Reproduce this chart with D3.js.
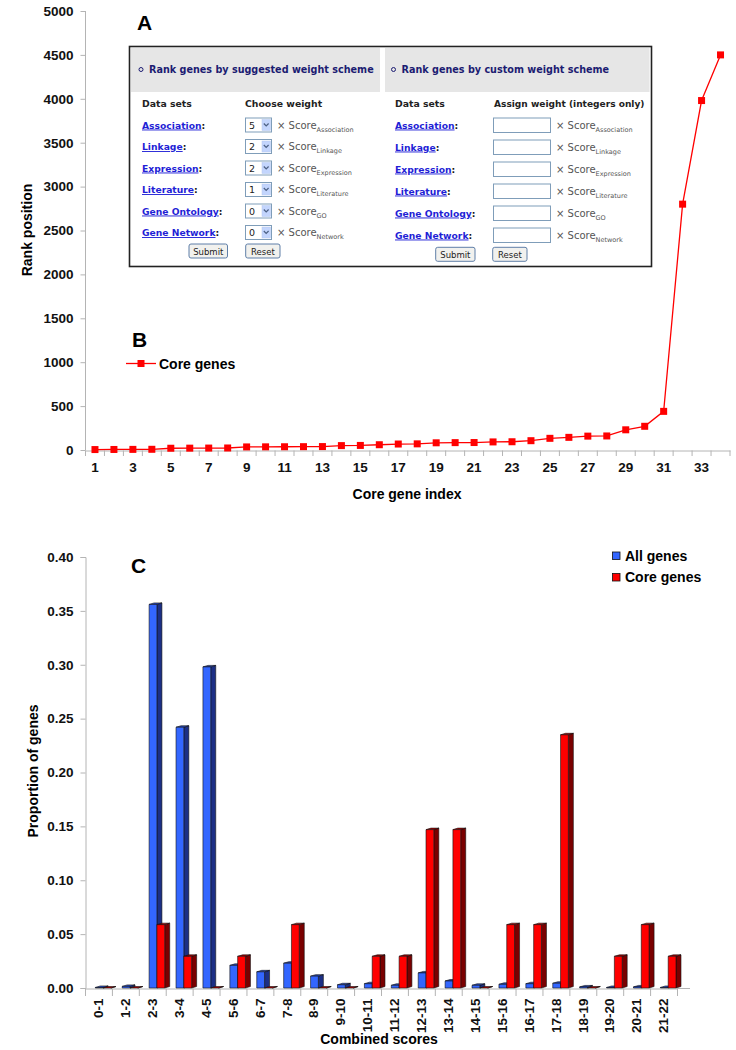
<!DOCTYPE html>
<html>
<head>
<meta charset="utf-8">
<script src="https://cdn.jsdelivr.net/npm/d3@7"></script>
<style>
  html, body { margin: 0; padding: 0; background: #fff; }
  svg { display: block; }
</style>
</head>
<body>
<svg id="chart" width="736" height="1050"></svg>
<script>
// ---------- DATA ----------
// Panel A/B: rank position of each core gene
const coreIndex = d3.range(1, 35);
const rankPosition = [5, 6, 7, 8, 20, 21, 22, 23, 35, 36, 37, 38, 39, 50, 52, 60, 68, 70, 82, 84, 85, 92, 94, 106, 133, 144, 158, 160, 230, 270, 440, 2800, 3980, 4500];
const rankTicks = [0, 500, 1000, 1500, 2000, 2500, 3000, 3500, 4000, 4500, 5000];

// Panel C: distribution of combined scores
const scoreBins = ["0-1","1-2","2-3","3-4","4-5","5-6","6-7","7-8","8-9","9-10","10-11","11-12","12-13","13-14","14-15","15-16","16-17","17-18","18-19","19-20","20-21","21-22"];
const allGenes  = [0.0005, 0.0015, 0.356, 0.242, 0.298, 0.021, 0.015, 0.023, 0.011, 0.003, 0.004, 0.0025, 0.014, 0.0065, 0.0025, 0.0034, 0.004, 0.0044, 0.001, 0.0005, 0.001, 0.0005];
const coreGenes = [0, 0, 0.0588, 0.0294, 0, 0.0294, 0, 0.0588, 0, 0, 0.0294, 0.0294, 0.147, 0.147, 0, 0.0588, 0.0588, 0.235, 0, 0.0294, 0.0588, 0.0294];
const propTicks = [0, 0.05, 0.10, 0.15, 0.20, 0.25, 0.30, 0.35, 0.40];
const seriesNames = ["All genes", "Core genes"];

// Form panel contents
const dataSets = ["Association", "Linkage", "Expression", "Literature", "Gene Ontology", "Gene Network"];
const scoreSubs = ["Association", "Linkage", "Expression", "Literature", "GO", "Network"];
const suggestedWeights = [5, 2, 2, 1, 0, 0];

// ---------- STYLE ----------
const AX = "#b4b4b4";
const FONT = "Liberation Sans, Arial, sans-serif";
const VFONT = "DejaVu Sans, Verdana, sans-serif";
const svg = d3.select("#chart");

// ================= TOP CHART =================
const xT = d3.scaleBand().domain(coreIndex).range([85.5, 730]);
const yT = d3.scaleLinear().domain([0, 5000]).range([450, 11]);

const gT = svg.append("g");
const yAxT = gT.append("g").attr("transform", "translate(85.5,0)")
  .call(d3.axisLeft(yT).tickValues(rankTicks).tickSize(5).tickPadding(7).tickFormat(d3.format("d")));
const xAxT = gT.append("g").attr("transform", "translate(0,450.5)")
  .call(d3.axisBottom(xT).tickSize(0).tickPadding(12).tickFormat(d => d % 2 === 1 ? d : ""));
gT.append("g").selectAll("line").data(d3.range(0, 35)).join("line")
  .attr("x1", i => 85.5 + i * xT.bandwidth()).attr("x2", i => 85.5 + i * xT.bandwidth())
  .attr("y1", 450.5).attr("y2", 456).attr("stroke", AX);

[yAxT, xAxT].forEach(a => {
  a.selectAll(".domain").attr("stroke", AX);
  a.selectAll(".tick line").attr("stroke", AX);
  a.selectAll("text").attr("font-family", FONT).attr("font-weight", "bold").attr("font-size", 13.5).attr("fill", "#111");
});
yAxT.select(".domain").attr("d", "M-0,11V450.5");

gT.append("text").attr("transform", "translate(32,230) rotate(-90)").attr("text-anchor", "middle")
  .attr("font-family", FONT).attr("font-weight", "bold").attr("font-size", 14).text("Rank position");
gT.append("text").attr("x", 407).attr("y", 499).attr("text-anchor", "middle")
  .attr("font-family", FONT).attr("font-weight", "bold").attr("font-size", 14).text("Core gene index");

const cx = d => xT(d) + xT.bandwidth() / 2;
gT.append("path").datum(rankPosition)
  .attr("fill", "none").attr("stroke", "#ff0000").attr("stroke-width", 1.3)
  .attr("d", d3.line().x((d, i) => cx(coreIndex[i])).y(d => yT(d)));
gT.append("g").selectAll("rect").data(rankPosition).join("rect")
  .attr("x", (d, i) => cx(coreIndex[i]) - 3.5).attr("y", d => yT(d) - 3.5)
  .attr("width", 7).attr("height", 7).attr("fill", "#ff0000");

gT.append("text").attr("x", 137).attr("y", 30).attr("font-family", FONT).attr("font-weight", "bold").attr("font-size", 21).text("A");
gT.append("text").attr("x", 132).attr("y", 347).attr("font-family", FONT).attr("font-weight", "bold").attr("font-size", 21).text("B");
gT.append("line").attr("x1", 126).attr("x2", 156).attr("y1", 363.5).attr("y2", 363.5).attr("stroke", "#ff0000").attr("stroke-width", 1.3);
gT.append("rect").attr("x", 137.5).attr("y", 360).attr("width", 7).attr("height", 7).attr("fill", "#ff0000");
gT.append("text").attr("x", 159).attr("y", 368.5).attr("font-family", FONT).attr("font-weight", "bold").attr("font-size", 14).text("Core genes");

// ================= FORM PANEL (A) =================
const gF = svg.append("g");
gF.append("rect").attr("x", 129.5).attr("y", 46.5).attr("width", 522).attr("height", 220)
  .attr("fill", "#fff").attr("stroke", "#222").attr("stroke-width", 1.6);
gF.append("rect").attr("x", 131).attr("y", 48).attr("width", 249).attr("height", 44).attr("fill", "#e6e6e6");
gF.append("rect").attr("x", 385).attr("y", 48).attr("width", 264.5).attr("height", 44).attr("fill", "#e6e6e6");
const NAVY = "#1c1c72";
[[141, 149, "Rank genes by suggested weight scheme"], [393.5, 401.5, "Rank genes by custom weight scheme"]].forEach(([bx, tx, t]) => {
  gF.append("circle").attr("cx", bx).attr("cy", 69.5).attr("r", 2).attr("fill", "none").attr("stroke", NAVY).attr("stroke-width", 1);
  gF.append("text").attr("x", tx).attr("y", 73).attr("font-family", VFONT).attr("font-weight", "bold")
    .attr("font-size", 9.65).attr("fill", NAVY).text(t);
});

function headerRow(x1, x2, t2, fs2) {
  gF.append("text").attr("x", x1).attr("y", 107).attr("font-family", VFONT).attr("font-weight", "bold")
    .attr("font-size", 9.3).attr("fill", "#222").text("Data sets");
  gF.append("text").attr("x", x2).attr("y", 107).attr("font-family", VFONT).attr("font-weight", "bold")
    .attr("font-size", fs2).attr("fill", "#222").text(t2);
}
headerRow(142, 245, "Choose weight", 9.3);
headerRow(395, 494, "Assign weight (integers only)", 9.05);

function rowLabel(x, y, name) {
  const t = gF.append("text").attr("x", x).attr("y", y + 3.5).attr("font-family", VFONT).attr("font-weight", "bold").attr("font-size", 9.2);
  t.append("tspan").attr("fill", "#1f1fd6").attr("text-decoration", "underline").text(name);
  t.append("tspan").attr("fill", "#111").text(":");
}
function scoreText(x, y, sub) {
  const t = gF.append("text").attr("x", x).attr("y", y + 3.5).attr("font-family", VFONT).attr("font-size", 10).attr("fill", "#555");
  t.append("tspan").text("× Score");
  t.append("tspan").attr("font-size", 6.5).attr("dy", 3).text(sub);
}
const leftRowY = d3.scaleLinear().domain([0, 5]).range([125, 232.5]);
const rightRowY = d3.scaleLinear().domain([0, 5]).range([125, 235]);

dataSets.forEach((name, i) => {
  const y = leftRowY(i);
  rowLabel(142, y, name);
  gF.append("rect").attr("x", 245.5).attr("y", y - 7).attr("width", 26).attr("height", 14)
    .attr("fill", "#fff").attr("stroke", "#7f9db9");
  gF.append("rect").attr("x", 262).attr("y", y - 5.5).attr("width", 8.5).attr("height", 11)
    .attr("fill", "#c3d5fd").attr("stroke", "#b4c8f0").attr("stroke-width", 0.5);
  gF.append("path").attr("d", `M${263.8},${y - 1.5}L${266.2},${y + 1}L${268.6},${y - 1.5}`)
    .attr("fill", "none").attr("stroke", "#4d6185").attr("stroke-width", 1.2);
  gF.append("text").attr("x", 249).attr("y", y + 3.5).attr("font-family", VFONT).attr("font-size", 9.5).attr("fill", "#222").text(suggestedWeights[i]);
  scoreText(277, y, scoreSubs[i]);

  const yr = rightRowY(i);
  rowLabel(395, yr, name);
  gF.append("rect").attr("x", 493.5).attr("y", yr - 7).attr("width", 57).attr("height", 14.5)
    .attr("fill", "#fff").attr("stroke", "#7f9db9");
  scoreText(556, yr, scoreSubs[i]);
});

function button(x, y, w, label) {
  gF.append("rect").attr("x", x).attr("y", y).attr("width", w).attr("height", 14).attr("rx", 2)
    .attr("fill", "#f1f1ee").attr("stroke", "#5f7fa8").attr("stroke-width", 1);
  gF.append("text").attr("x", x + w / 2).attr("y", y + 10.5).attr("text-anchor", "middle")
    .attr("font-family", VFONT).attr("font-size", 8.5).attr("fill", "#222").text(label);
}
button(189, 244, 38.5, "Submit");
button(245.7, 244, 34.3, "Reset");
button(435.7, 247.3, 39.3, "Submit");
button(492.7, 247.3, 34.3, "Reset");

// ================= BOTTOM CHART =================
const xB = d3.scaleBand().domain(scoreBins).range([85, 677]);
const yB = d3.scaleLinear().domain([0, 0.4]).range([988, 557]);
const gB = svg.append("g");

const yAxB = gB.append("g").attr("transform", "translate(85.5,0)")
  .call(d3.axisLeft(yB).tickValues(propTicks).tickSize(5).tickPadding(7).tickFormat(d3.format(".2f")));
const xAxB = gB.append("g").attr("transform", "translate(0,988.5)")
  .call(d3.axisBottom(xB).tickSize(0).tickPadding(10));
gB.append("g").selectAll("line").data(d3.range(0, 23)).join("line")
  .attr("x1", i => 85.5 + i * xB.bandwidth()).attr("x2", i => 85.5 + i * xB.bandwidth())
  .attr("y1", 988.5).attr("y2", 996).attr("stroke", AX);
gB.append("line").attr("x1", 677).attr("x2", 690).attr("y1", 988.5).attr("y2", 988.5).attr("stroke", AX);
[yAxB, xAxB].forEach(a => {
  a.selectAll(".domain").attr("stroke", AX);
  a.selectAll(".tick line").attr("stroke", AX);
  a.selectAll("text").attr("font-family", FONT).attr("font-weight", "bold").attr("font-size", 13.5).attr("fill", "#111");
});
xAxB.selectAll(".tick text")
  .attr("transform", "rotate(-90)").attr("text-anchor", "end").attr("dy", "0.35em")
  .attr("x", -10).attr("y", 0);

gB.append("text").attr("transform", "translate(38,771) rotate(-90)").attr("text-anchor", "middle")
  .attr("font-family", FONT).attr("font-weight", "bold").attr("font-size", 14).text("Proportion of genes");
gB.append("text").attr("x", 379).attr("y", 1044).attr("text-anchor", "middle")
  .attr("font-family", FONT).attr("font-weight", "bold").attr("font-size", 14).text("Combined scores");
gB.append("text").attr("x", 131).attr("y", 573).attr("font-family", FONT).attr("font-weight", "bold").attr("font-size", 21).text("C");

// 3D bars
const barW = 7.8, dX = 5, dY = 1.5, offs = 10.3;
const series = [
  { vals: allGenes, front: "#3366ff", side: "#1c2f85", top: "#2a4fd0", k: 0 },
  { vals: coreGenes, front: "#ff0000", side: "#7a0000", top: "#b00000", k: 1 }
];
const gBars = gB.append("g");
scoreBins.forEach((bin, i) => {
  series.forEach(s => {
    const v = s.vals[i];
    const x0 = xB(bin) + offs + s.k * barW;
    const yTop = yB(v), y0 = yB(0);
    const g = gBars.append("g").attr("stroke", "#111").attr("stroke-width", 0.6).attr("stroke-linejoin", "round");
    g.append("path").attr("fill", s.side)
      .attr("d", `M${x0 + barW},${y0}L${x0 + barW + dX},${y0 - dY}L${x0 + barW + dX},${yTop - dY}L${x0 + barW},${yTop}Z`);
    g.append("path").attr("fill", s.top)
      .attr("d", `M${x0},${yTop}L${x0 + dX},${yTop - dY}L${x0 + barW + dX},${yTop - dY}L${x0 + barW},${yTop}Z`);
    g.append("rect").attr("fill", s.front).attr("x", x0).attr("y", yTop).attr("width", barW).attr("height", Math.max(0, y0 - yTop));
  });
});

// legend C
const legC = gB.append("g");
seriesNames.forEach((n, i) => {
  legC.append("rect").attr("x", 612.5).attr("y", 552 + i * 21.5).attr("width", 7.5).attr("height", 7.5)
    .attr("fill", series[i].front).attr("stroke", "#111").attr("stroke-width", 0.8);
  legC.append("text").attr("x", 625).attr("y", 560.5 + i * 21.5).attr("font-family", FONT)
    .attr("font-weight", "bold").attr("font-size", 14).text(n);
});
</script>
</body>
</html>
